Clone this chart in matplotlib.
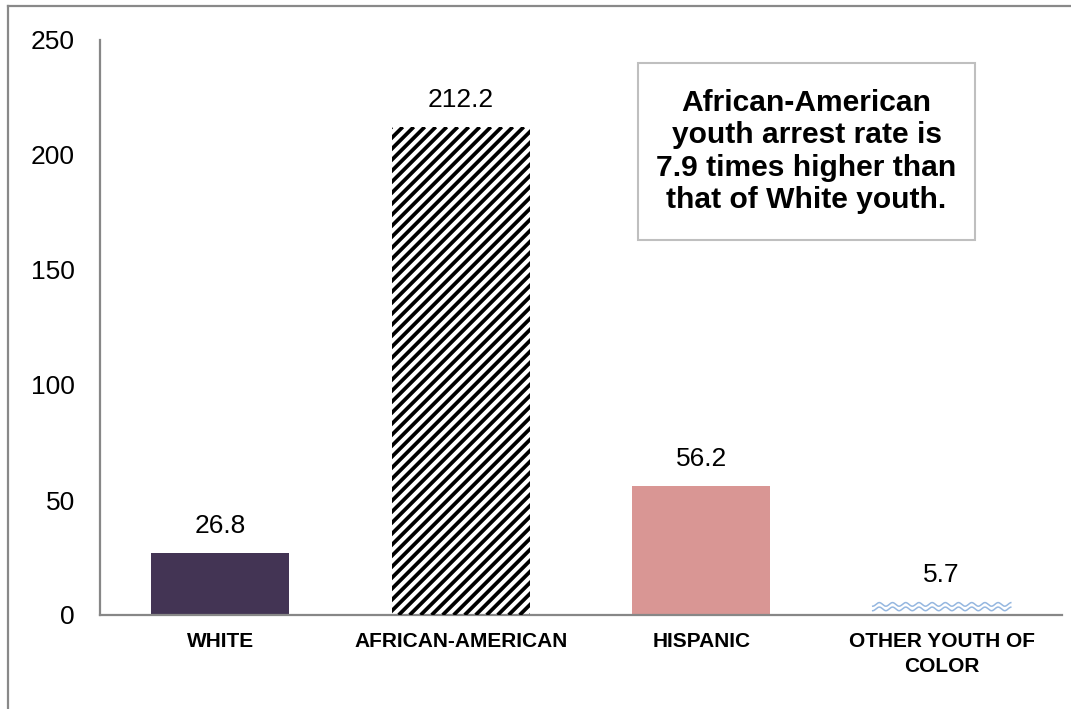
import numpy as np
import matplotlib.pyplot as plt
from matplotlib.lines import Line2D
from matplotlib.patches import Rectangle

categories = ['WHITE', 'AFRICAN-AMERICAN', 'HISPANIC', 'OTHER YOUTH OF\nCOLOR']
rates = [26.8, 212.2, 56.2, 5.7]
rate_labels = ['26.8', '212.2', '56.2', '5.7']
yticks = [0, 50, 100, 150, 200, 250]
note = 'African-American\nyouth arrest rate is\n7.9 times higher than\nthat of White youth.'

plt.rcParams['font.family'] = ['Liberation Sans', 'DejaVu Sans']

W, H = 1071, 709
fig = plt.figure(figsize=(W / 100, H / 100), dpi=100)
ax = fig.add_axes([100 / W, 1 - 615 / H, (1062 - 100) / W, (615 - 40) / H])

x = np.arange(len(categories))
face = ['#433454', 'white', '#D99694', 'white']
bars = ax.bar(x, rates, width=0.574, color=face, linewidth=0, zorder=2)
ax.set_xlim(-0.5, len(categories) - 0.5)
ax.set_ylim(0, 250)

# pixel size of one data unit, used for the patterned fills
p0 = ax.transData.transform((0, 0))
p1 = ax.transData.transform((1, 1))
sx, sy = p1 - p0

# diagonal stripes on the African-American bar
b = bars[1]
bw, bh = b.get_width() * sx, b.get_height() * sy
for c in np.arange(-bh, bw + 11, 11):
    xs = b.get_x() + np.array([c, c + bh]) / sx
    ys = np.array([0, bh]) / sy
    ln, = ax.plot(xs, ys, color='black', lw=2.7, solid_capstyle='butt', zorder=3)
    ln.set_clip_path(b)

# wavy fill on the "other youth of color" bar
b = bars[3]
bw = b.get_width() * sx
t = np.linspace(0, bw, 400)
for off in [2.5, 7.0]:
    yy = b.get_height() - (off + 1.8 * np.cos(2 * np.pi * t / 13.2)) / sy
    ax.plot(b.get_x() + t / sx, yy, color='#95B7E0', lw=1.1, zorder=3)

for bar, lab in zip(bars, rate_labels):
    ax.annotate(lab, (bar.get_x() + bar.get_width() / 2, bar.get_height()),
                xytext=(0, 19.5), textcoords='offset points',
                ha='center', va='center', fontsize=19)

ax.set_xticks(x)
ax.set_xticklabels(categories, fontsize=15, fontweight='bold')
for lbl in ax.get_xticklabels():
    lbl.set_linespacing(1.45)
ax.set_yticks(yticks)
ax.tick_params(axis='y', length=0, pad=18, labelsize=19)
ax.tick_params(axis='x', length=0, pad=12)

for s in ['top', 'right']:
    ax.spines[s].set_visible(False)
for s in ['left', 'bottom']:
    ax.spines[s].set_color('#878787')
    ax.spines[s].set_linewidth(1.6)

# callout box
ax.add_patch(Rectangle((0.559, 0.652), 0.351, 0.308, transform=ax.transAxes,
                       facecolor='white', edgecolor='#BFBFBF', lw=1.5, zorder=4))
ax.text(0.7345, 0.806, note, transform=ax.transAxes, ha='center', va='center',
        fontsize=21.6, fontweight='bold', linespacing=1.2, zorder=5)

# outer chart-area border (partly cut off)
border = '#898989'
fig.add_artist(Line2D([8 / W, 1], [1 - 6 / H, 1 - 6 / H], color=border, lw=1.6))
fig.add_artist(Line2D([8 / W, 8 / W], [0, 1 - 6 / H], color=border, lw=1.6))

fig.savefig('out.png', dpi=100)
